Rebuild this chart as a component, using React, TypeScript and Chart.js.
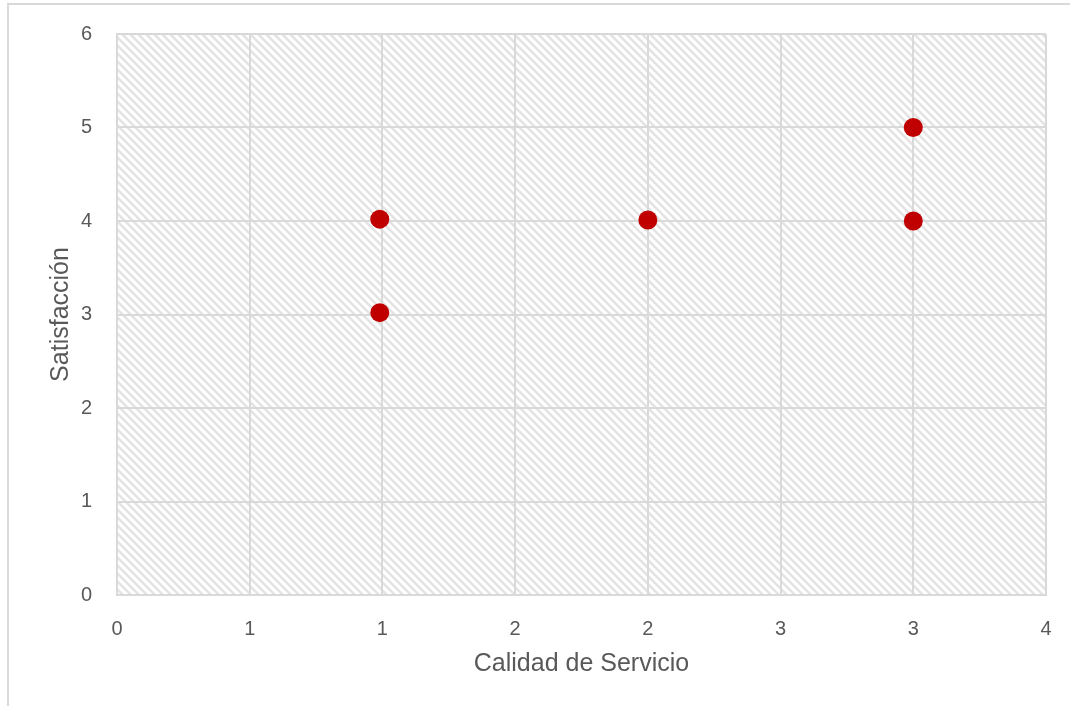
import React, { useEffect, useRef } from "react";
import { Chart, registerables } from "chart.js";

Chart.register(...registerables);

// Data
const calidad: number[] = [0.99, 0.99, 2, 3, 3];
const satisfaccion: number[] = [4.02, 3.02, 4.01, 5, 4];
const xTitle = "Calidad de Servicio";
const yTitle = "Satisfacción";
const xMin = 0;
const xMax = 3.5;
const xStep = 0.5;
const yMin = 0;
const yMax = 6;
const yStep = 1;

const W = 1070;
const H = 706;
const GRID = "#d9d9d9";
const TEXT = "#595959";
const FONT = "'Liberation Sans', Arial, sans-serif";

function makePattern(ctx: CanvasRenderingContext2D): CanvasPattern | string {
  const s = 8;
  const tile = document.createElement("canvas");
  tile.width = s;
  tile.height = s;
  const t = tile.getContext("2d");
  if (!t) return "#ffffff";
  t.fillStyle = "#ffffff";
  t.fillRect(0, 0, s, s);
  t.strokeStyle = "#e3e3e3";
  t.lineWidth = 2.5;
  for (const off of [-s, 0, s]) {
    t.beginPath();
    t.moveTo(-1 + off, -1);
    t.lineTo(s + 1 + off, s + 1);
    t.stroke();
  }
  return ctx.createPattern(tile, "repeat") || "#ffffff";
}

const bgPlugin = {
  id: "hatchBg",
  beforeDraw(chart: any) {
    const { ctx, chartArea } = chart;
    ctx.save();
    ctx.fillStyle = "#ffffff";
    ctx.fillRect(0, 0, chart.width, chart.height);
    ctx.fillStyle = makePattern(ctx);
    ctx.fillRect(chartArea.left, chartArea.top, chartArea.right - chartArea.left, chartArea.bottom - chartArea.top);
    // outer frame
    ctx.strokeStyle = GRID;
    ctx.lineWidth = 2;
    ctx.beginPath();
    ctx.moveTo(8, H);
    ctx.lineTo(8, 4);
    ctx.lineTo(W, 4);
    ctx.stroke();
    ctx.restore();
  },
};

export default function App() {
  const ref = useRef<HTMLCanvasElement | null>(null);

  useEffect(() => {
    if (!ref.current) return;
    const chart = new Chart(ref.current, {
      type: "scatter",
      data: {
        datasets: [
          {
            label: "Satisfacción",
            data: calidad.map((x, i) => ({ x, y: satisfaccion[i] })),
            backgroundColor: "#C00000",
            borderColor: "#C00000",
            borderWidth: 0,
            pointRadius: 9.5,
            pointHoverRadius: 9.5,
          },
        ],
      },
      options: {
        animation: false,
        responsive: false,
        maintainAspectRatio: false,
        devicePixelRatio: 1,
        layout: { padding: { left: 0, top: 34, right: 24, bottom: 0 } },
        plugins: {
          legend: { display: false },
          tooltip: { enabled: false },
          title: { display: false },
        },
        scales: {
          x: {
            type: "linear",
            min: xMin,
            max: xMax,
            afterFit(scale: any) {
              scale.height = 111;
              scale.paddingLeft = 0;
              scale.paddingRight = 0;
            },
            ticks: {
              stepSize: xStep,
              padding: 22,
              color: TEXT,
              font: { family: FONT, size: 20 },
              callback: (v: any) => String(Math.round(Number(v))),
            },
            grid: { color: GRID, lineWidth: 2, drawTicks: false },
            border: { display: true, color: GRID, width: 2 },
            title: {
              display: true,
              text: xTitle,
              color: TEXT,
              font: { family: FONT, size: 25 },
              padding: { top: 0, bottom: 27 },
            },
          },
          y: {
            type: "linear",
            min: yMin,
            max: yMax,
            afterFit(scale: any) {
              scale.width = 117;
              scale.paddingTop = 0;
              scale.paddingBottom = 0;
            },
            ticks: {
              stepSize: yStep,
              padding: 25,
              color: TEXT,
              font: { family: FONT, size: 20 },
            },
            grid: { color: GRID, lineWidth: 2, drawTicks: false },
            border: { display: true, color: GRID, width: 2 },
            title: {
              display: true,
              text: yTitle,
              color: TEXT,
              font: { family: FONT, size: 25 },
              padding: { top: 46, bottom: 0 },
            },
          },
        },
      },
      plugins: [bgPlugin],
    });
    return () => chart.destroy();
  }, []);

  return (
    <div style={{ position: "absolute", left: 0, top: 0, width: W, height: H }}>
      <canvas ref={ref} width={W} height={H} style={{ width: W, height: H, display: "block" }} />
    </div>
  );
}
